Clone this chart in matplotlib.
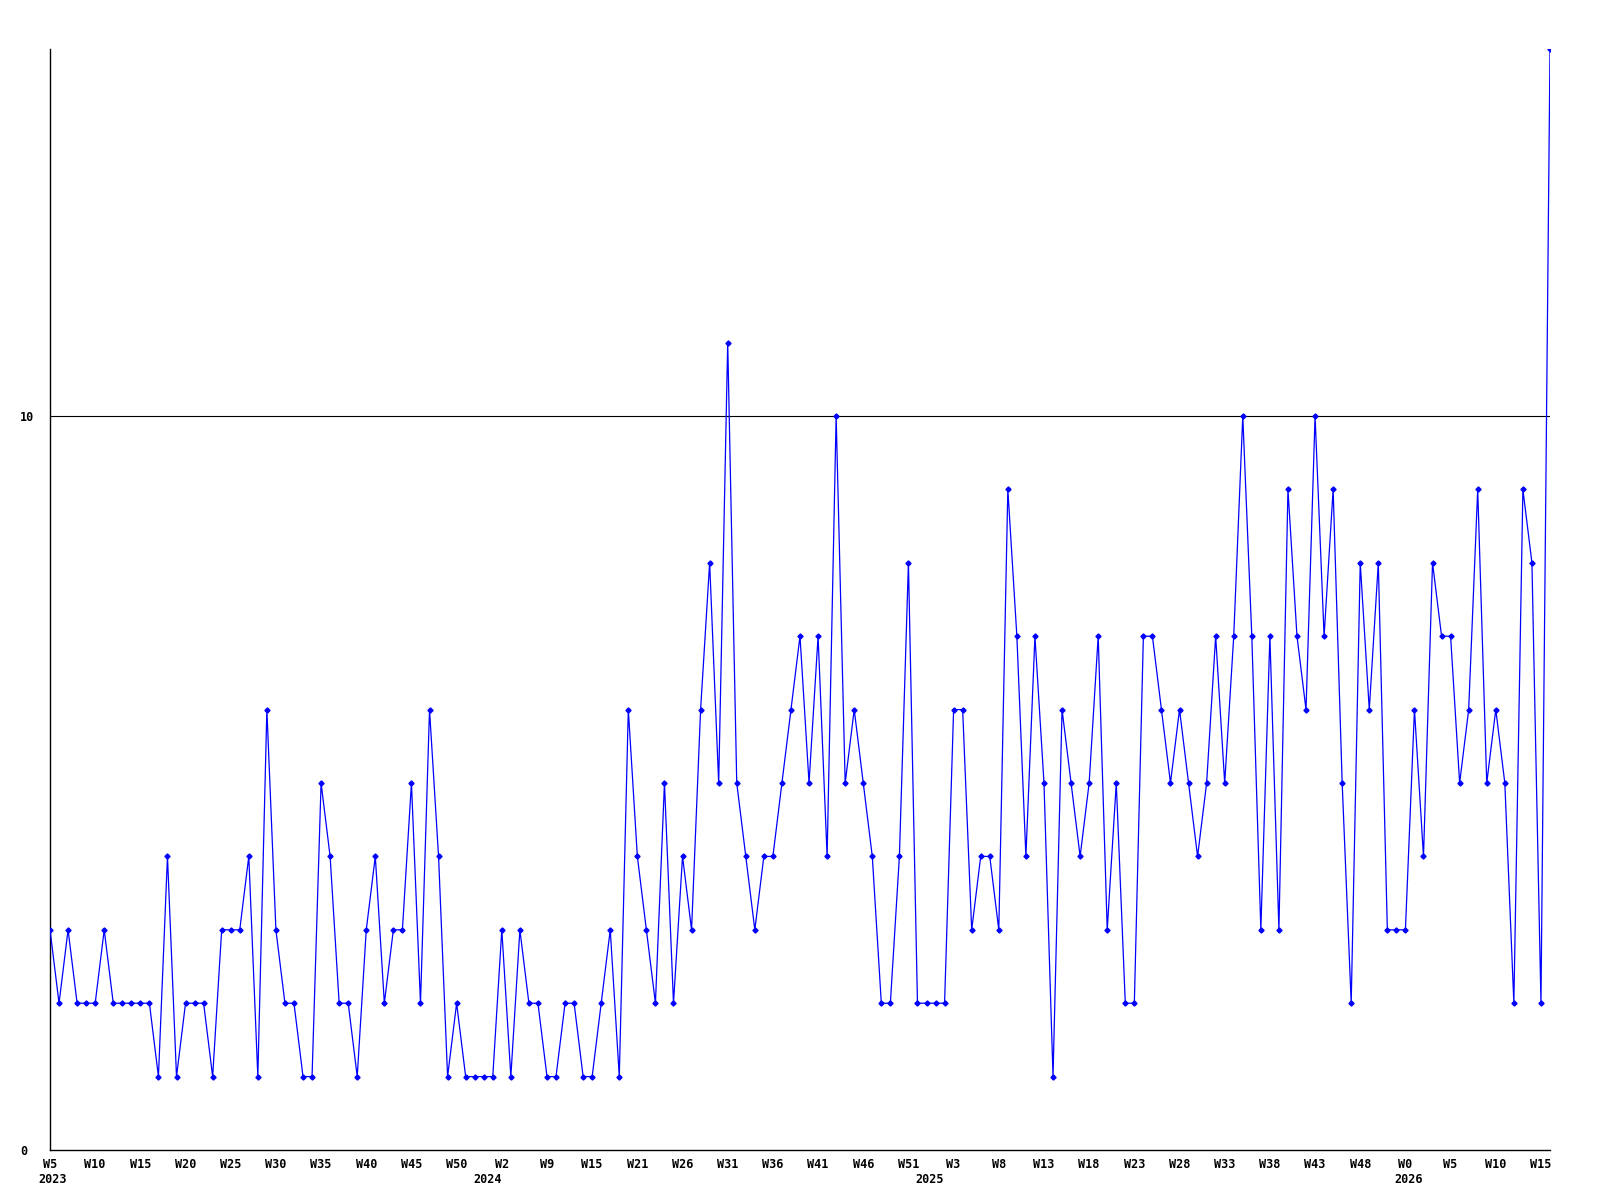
import matplotlib
matplotlib.use("Agg")
import matplotlib.pyplot as plt
import numpy as np

# weekly counts, W5 2023 .. W16 2026
counts = [3, 2, 3, 2, 2, 2, 3, 2, 2, 2, 2, 2, 1, 4, 1, 2, 2, 2, 1, 3,
          3, 3, 4, 1, 6, 3, 2, 2, 1, 1, 5, 4, 2, 2, 1, 3, 4, 2, 3, 3,
          5, 2, 6, 4, 1, 2, 1, 1, 1, 1, 3, 1, 3, 2, 2, 1, 1, 2, 2, 1,
          1, 2, 3, 1, 6, 4, 3, 2, 5, 2, 4, 3, 6, 8, 5, 11, 5, 4, 3, 4,
          4, 5, 6, 7, 5, 7, 4, 10, 5, 6, 5, 4, 2, 2, 4, 8, 2, 2, 2, 2,
          6, 6, 3, 4, 4, 3, 9, 7, 4, 7, 5, 1, 6, 5, 4, 5, 7, 3, 5, 2,
          2, 7, 7, 6, 5, 6, 5, 4, 5, 7, 5, 7, 10, 7, 3, 7, 3, 9, 7, 6,
          10, 7, 9, 5, 2, 8, 6, 8, 3, 3, 3, 6, 4, 8, 7, 7, 5, 6, 9, 5,
          6, 5, 2, 9, 8, 2, 15]

week_labels = ["W5", "W10", "W15", "W20", "W25", "W30", "W35", "W40", "W45", "W50",
               "W2", "W9", "W15", "W21", "W26", "W31", "W36", "W41", "W46", "W51",
               "W3", "W8", "W13", "W18", "W23", "W28", "W33", "W38", "W43", "W48",
               "W0", "W5", "W10", "W15"]
years = ["2023", "2024", "2025", "2026"]
year_pos = [0.3, 48.4, 97.3, 150.3]

x = np.arange(len(counts))
font = dict(family="DejaVu Sans Mono", fontweight="bold", fontsize=8.5)

fig = plt.figure(figsize=(16, 12), dpi=100)
ax = fig.add_axes([50/1600, 1 - 1150/1200, 1500/1600, 1101/1200])

ax.axhline(10, color="black", lw=0.8, zorder=1)
ax.plot(x, counts, color="#0000ff", lw=0.9, marker="D", ms=2.6, zorder=3)

ax.set_xlim(0, len(counts) - 1)
ax.set_ylim(0, 15)
for s in ["top", "right"]:
    ax.spines[s].set_visible(False)
for s in ["left", "bottom"]:
    ax.spines[s].set_linewidth(1)
    ax.spines[s].set_color("black")

ax.set_yticks([0, 10])
ax.set_yticklabels(["0", "10"], ha="left", **font)
ax.tick_params(axis="y", length=0, pad=21.5)

ax.set_xticks(np.arange(len(week_labels)) * 5)
ax.set_xticklabels(week_labels, **font)
ax.tick_params(axis="x", length=0, pad=6)

for yr, p in zip(years, year_pos):
    ax.text(p, -0.0205, yr, transform=ax.get_xaxis_transform(), ha="center", va="top",
            **font)

fig.savefig("out.png", dpi=100)
